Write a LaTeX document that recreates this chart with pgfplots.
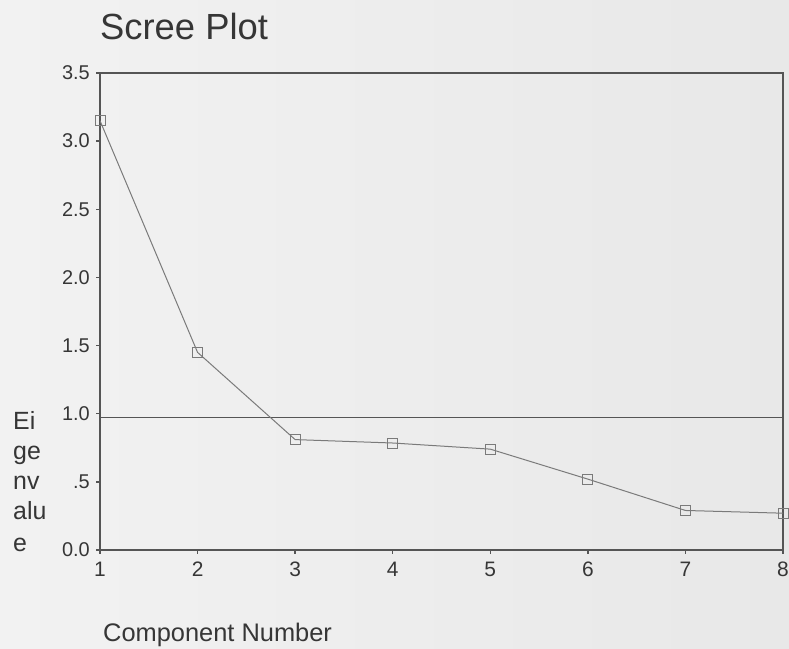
\documentclass[border=0pt]{standalone}
\usepackage{pgfplots}
\pgfplotsset{compat=1.18}
\usepackage{fontspec}
\setmainfont{Liberation Sans}
\definecolor{bg}{HTML}{E8E8E8}
\definecolor{bgl}{HTML}{F2F2F2}
\definecolor{txt}{HTML}{363636}
\definecolor{axc}{HTML}{555555}
\definecolor{dat}{HTML}{7A7A7A}
\begin{document}
\begin{tikzpicture}[x=1bp,y=1bp]
\shade[left color=bgl, right color=bg] (0,0) rectangle (789,649);
\begin{axis}[
  at={(100bp,99bp)}, anchor=south west,
  scale only axis, width=683bp, height=477bp,
  xmin=1, xmax=8, ymin=0, ymax=3.5,
  xtick={1,2,3,4,5,6,7,8},
  xticklabels={1,2,3,4,5,6,7,8},
  ytick={0,0.5,1,1.5,2,2.5,3,3.5},
  yticklabels={0.0,.5,1.0,1.5,2.0,2.5,3.0,3.5},
  tick align=outside, major tick length=4bp,
  xtick pos=bottom, ytick pos=left,
  tick style={axc, line width=1.3bp},
  axis line style={axc, line width=1.1bp},
  yticklabel style={font=\fontsize{20}{20}\selectfont, text=txt, inner sep=0pt, xshift=-6bp},
  xticklabel style={font=\fontsize{21}{21}\selectfont, text=txt, inner sep=0pt, yshift=-8bp},
  /pgf/number format/assume math mode=true,
]
\addplot[axc, line width=1.1bp] coordinates {(1,0.97) (8,0.97)};
\addplot[dat, line width=1bp, mark=square, mark size=5bp, mark options={line width=1bp, draw=dat}]
  coordinates {(1,3.15) (2,1.45) (3,0.81) (4,0.785) (5,0.74) (6,0.52) (7,0.29) (8,0.27)};
\end{axis}
\node[anchor=base west, inner sep=0pt, font=\fontsize{36.5}{36.5}\selectfont, text=txt] at (100,609) {Scree Plot};
\node[anchor=base west, inner sep=0pt, font=\fontsize{25.5}{25.5}\selectfont, text=txt] at (103,7) {Component Number};
\foreach \t/\yy in {Ei/219, ge/189, nv/159, alu/129, e/97}{
  \node[anchor=base west, inner sep=0pt, font=\fontsize{25}{25}\selectfont, text=txt] at (13,\yy) {\t};
}
\end{tikzpicture}
\end{document}
